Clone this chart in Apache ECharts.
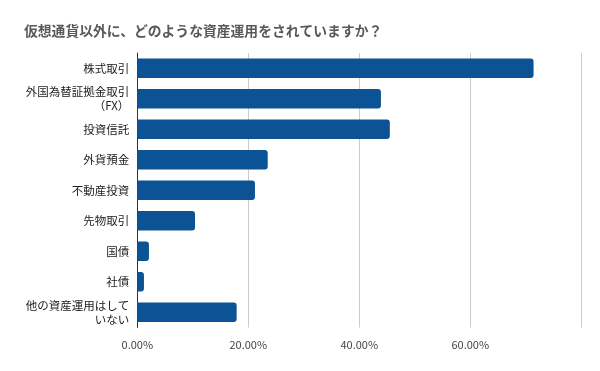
<!DOCTYPE html>
<html><head><meta charset="utf-8">
<script src="https://cdn.jsdelivr.net/npm/echarts@6/dist/echarts.min.js"></script>
<style>html,body{margin:0;padding:0;background:#fff}#c{width:600px;height:371px}</style>
</head><body><div id="c"></div>
<script>
const title = '仮想通貨以外に、どのような資産運用をされていますか？';
const categories = ['株式取引','外国為替証拠金取引\n（FX）','投資信託','外貨預金','不動産投資','先物取引','国債','社債','他の資産運用はして\nいない'];
const values = [71.4, 43.9, 45.5, 23.5, 21.2, 10.4, 2.1, 1.2, 17.9];
const xTicks = [0, 20, 40, 60, 80];
const font = '"Noto Sans CJK JP", "Noto Sans", sans-serif';
const chart = echarts.init(document.getElementById('c'), null, {renderer:'canvas'});
chart.setOption({
  animation:false,
  title:{text:title,left:19,top:19,textStyle:{fontFamily:font,fontSize:13.8,fontWeight:'bold',color:'#595959'}},
  grid:{left:137.3,right:18.7,top:53,bottom:43.5,containLabel:false},
  xAxis:{type:'value',min:xTicks[0],max:xTicks[xTicks.length-1],interval:20,
    axisLine:{show:false},axisTick:{show:false},
    splitLine:{show:true,lineStyle:{color:'#cccccc',width:1}},
    axisLabel:{fontFamily:font,fontSize:11,color:'#444',margin:12,
      formatter:v=> v===80 ? '' : v.toFixed(2)+'%'}},
  yAxis:{type:'category',data:categories,inverse:true,
    axisLine:{show:true,lineStyle:{color:'#333',width:1}},axisTick:{show:false},
    axisLabel:{fontFamily:font,fontSize:11.5,color:'#222',margin:8,lineHeight:14,align:'right'}},
  series:[{type:'bar',data:values,barWidth:19.5,
    itemStyle:{color:'#0b5394',borderRadius:[0,3,3,0]}}]
});
</script></body></html>
